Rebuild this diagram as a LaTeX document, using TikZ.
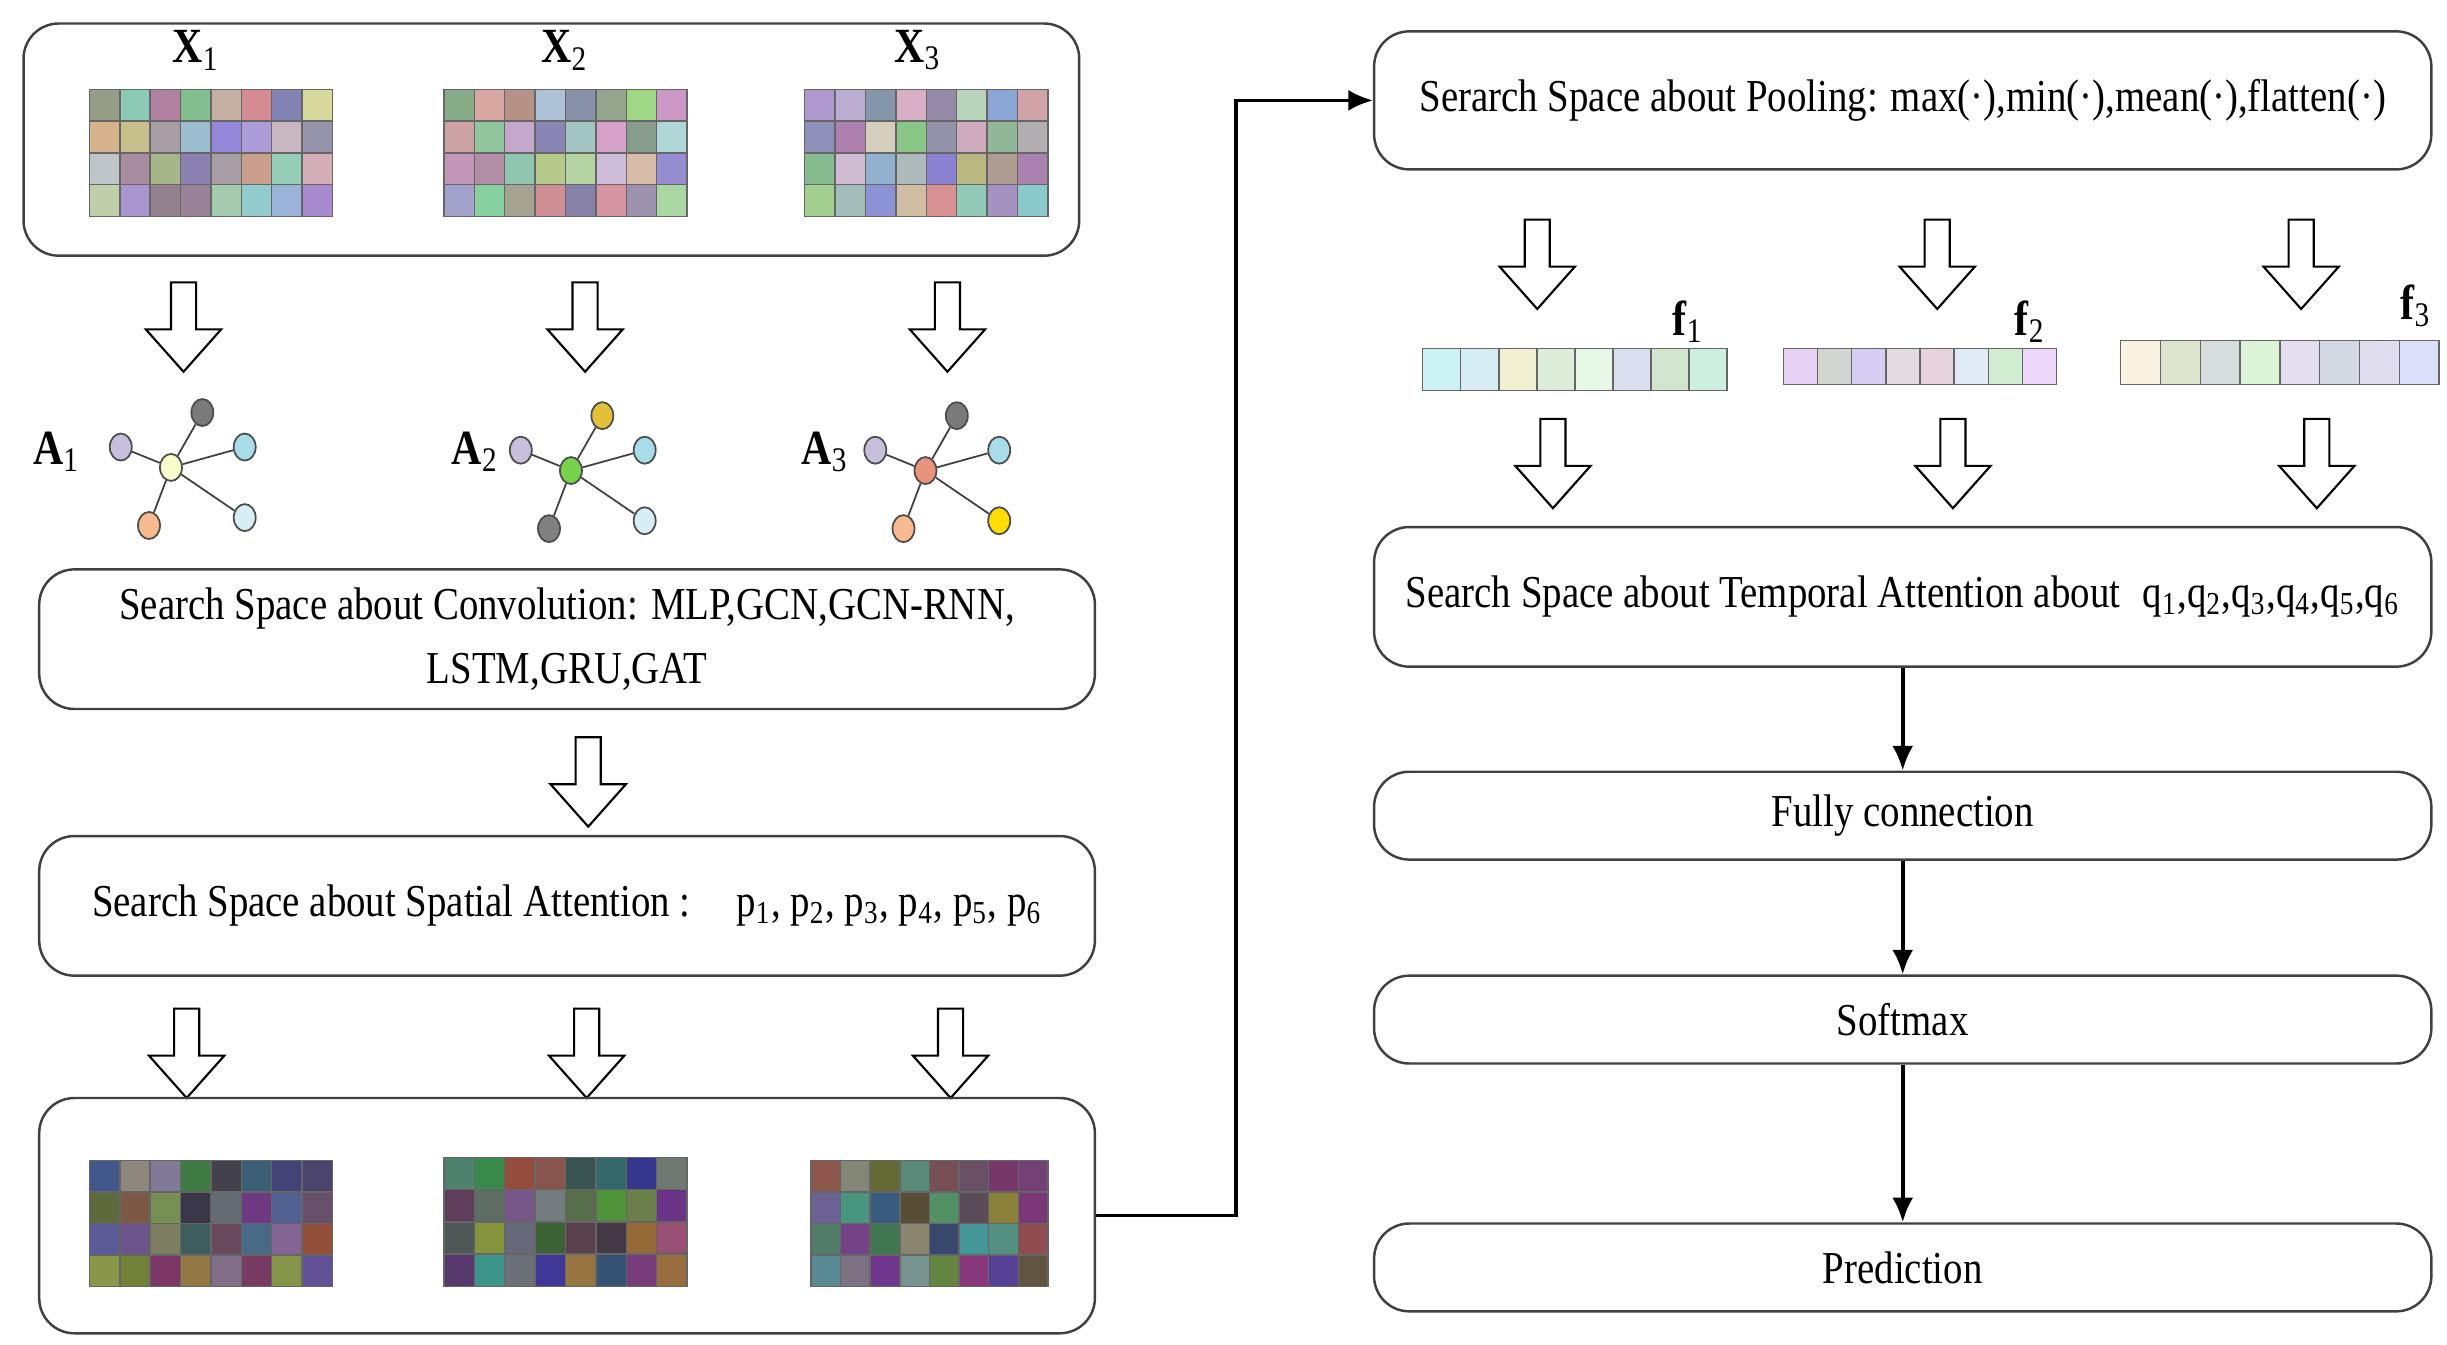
\documentclass[tikz,border=0pt]{standalone}
\usepackage{fontspec}
\setmainfont{Liberation Serif}[FakeStretch=0.85]
\usetikzlibrary{arrows.meta,shapes.geometric}
\tikzset{
  box/.style 2 args={draw=black!75, line width=0.7pt, rounded corners=10pt,
    minimum width=#1*0.01569cm, minimum height=#2*0.01569cm, align=center,
    inner sep=2pt, font=\fontsize{13}{18}\selectfont},
  lbl/.style={font=\fontsize{14}{16}\selectfont},
  leaf/.style={ellipse, draw=black!70, line width=0.5pt, fill=#1,
    minimum width=0.22cm, minimum height=0.27cm, inner sep=0pt},
  flow/.style={-{Latex[length=7pt,width=6pt]}, line width=1.1pt},
  pics/hollow/.style={code={
    \draw[fill=white, line width=0.6pt] (-8,0) -- (8,0) -- (8,30) -- (24,30)
      -- (0,57) -- (-24,30) -- (-8,30) -- cycle;}}
}
\definecolor{lav}{HTML}{C8BFDC}
\definecolor{lblue}{HTML}{A8DCE8}
\definecolor{pblue}{HTML}{D8EEF5}
\definecolor{dgray}{HTML}{7A7A7A}
\definecolor{orng}{HTML}{F8BB90}
% coloured cell blocks
\newcommand{\cellgrid}[8]{%
  \pgfmathsetmacro\cw{(#3-#1)/#5}\pgfmathsetmacro\ch{(#4-#2)/#6}
  \foreach \i in {1,...,#5}{\foreach \j in {1,...,#6}{
    \pgfmathsetmacro\cR{#7+#8*rnd}\pgfmathsetmacro\cG{#7+#8*rnd}\pgfmathsetmacro\cB{#7+#8*rnd}
    \definecolor{cellc}{rgb}{\cR,\cG,\cB}
    \fill[cellc, draw=black!60, line width=0.4pt]
      ({#1+(\i-1)*\cw},{#2+(\j-1)*\ch}) rectangle ++(\cw,\ch);
  }}}
% small star graphs
\newcommand{\stargraph}[7]{%
  \node[leaf=#4] (#1c) at (#2,#3) {};
  \node[leaf=#5] (#1t) at (#2+20,#3-35) {};
  \node[leaf=lav] (#1l) at (#2-32,#3-13) {};
  \node[leaf=lblue] (#1r) at (#2+47,#3-13) {};
  \node[leaf=#6] (#1a) at (#2-14,#3+37) {};
  \node[leaf=#7] (#1b) at (#2+47,#3+32) {};
  \foreach \n in {t,l,r,a,b}{\draw[black!75, line width=0.5pt] (#1c) -- (#1\n);}
}
\begin{document}
\begin{tikzpicture}[x=0.01569cm, y=-0.01569cm]
  \useasboundingbox (0,0) rectangle (1560,857);
  \pgfmathsetseed{42}
  % left column
  \node[box={673}{148}] (inp) at (351.5,89) {};
  \node[lbl] (x1) at (125,32) {\textbf{X}\textsubscript{1}};
  \node[lbl] (x2) at (360,32) {\textbf{X}\textsubscript{2}};
  \node[lbl] (x3) at (585,32) {\textbf{X}\textsubscript{3}};
  \cellgrid{57}{57}{212}{138}{8}{4}{0.5}{0.35}
  \cellgrid{283}{57}{438}{138}{8}{4}{0.5}{0.35}
  \cellgrid{513}{57}{668}{138}{8}{4}{0.5}{0.35}
  \foreach \x in {117,373,604}{\pic at (\x,180) {hollow};}
  \node[lbl] (a1) at (36,288) {\textbf{A}\textsubscript{1}};
  \node[lbl] (a2) at (303,288) {\textbf{A}\textsubscript{2}};
  \node[lbl] (a3) at (526,288) {\textbf{A}\textsubscript{3}};
  \stargraph{g}{109}{298}{green!15!yellow!20}{dgray}{orng}{pblue}
  \stargraph{h}{364}{300}{green!50!olive!70}{yellow!50!brown}{gray}{pblue}
  \stargraph{k}{590}{300}{red!40!brown!60}{dgray}{orng}{yellow!80!orange}
  \node[box={673}{89}] (conv) at (361.5,407.5)
    {Search Space about Convolution: MLP,GCN,GCN-RNN,\\LSTM,GRU,GAT};
  \pic at (375,470) {hollow};
  \node[box={673}{89}] (spat) at (361.5,577.5)
    {Search Space about Spatial Attention :\quad p\textsubscript{1}, p\textsubscript{2}, p\textsubscript{3}, p\textsubscript{4}, p\textsubscript{5}, p\textsubscript{6}};
  \foreach \x in {119,374,606}{\pic at (\x,643) {hollow};}
  \node[box={673}{150}] (outp) at (361.5,775) {};
  \cellgrid{57}{740}{212}{820}{8}{4}{0.2}{0.4}
  \cellgrid{283}{738}{438}{820}{8}{4}{0.2}{0.4}
  \cellgrid{517}{740}{668}{820}{8}{4}{0.2}{0.4}
  % right column
  \node[box={674}{88}] (pool) at (1213,64)
    {Serarch Space about Pooling: max(·),min(·),mean(·),flatten(·)};
  \foreach \x in {980,1235,1467}{\pic at (\x,140) {hollow};}
  \cellgrid{907}{222}{1101}{249}{8}{1}{0.8}{0.18}
  \cellgrid{1137}{222}{1311}{245}{8}{1}{0.8}{0.18}
  \cellgrid{1352}{217}{1555}{245}{8}{1}{0.8}{0.18}
  \node[lbl] (f1) at (1076,205) {\textbf{f}\textsubscript{1}};
  \node[lbl] (f2) at (1294,205) {\textbf{f}\textsubscript{2}};
  \node[lbl] (f3) at (1540,195) {\textbf{f}\textsubscript{3}};
  \foreach \x in {990,1245,1477}{\pic at (\x,267) {hollow};}
  \node[box={674}{89}] (temp) at (1213,380.5)
    {Search Space about Temporal Attention about\; q\textsubscript{1},q\textsubscript{2},q\textsubscript{3},q\textsubscript{4},q\textsubscript{5},q\textsubscript{6}};
  \node[box={674}{56}] (fc) at (1213,520) {Fully connection};
  \node[box={674}{56}] (soft) at (1213,650) {Softmax};
  \node[box={674}{56}] (pred) at (1213,808) {Prediction};
  \coordinate (bend) at (788,775);
  \draw[flow, line width=0.9pt] (outp.east) -- (bend) |- (pool.west);
  \draw[flow] (temp) -- (fc);
  \draw[flow] (fc) -- (soft);
  \draw[flow] (soft) -- (pred);
\end{tikzpicture}
\end{document}
